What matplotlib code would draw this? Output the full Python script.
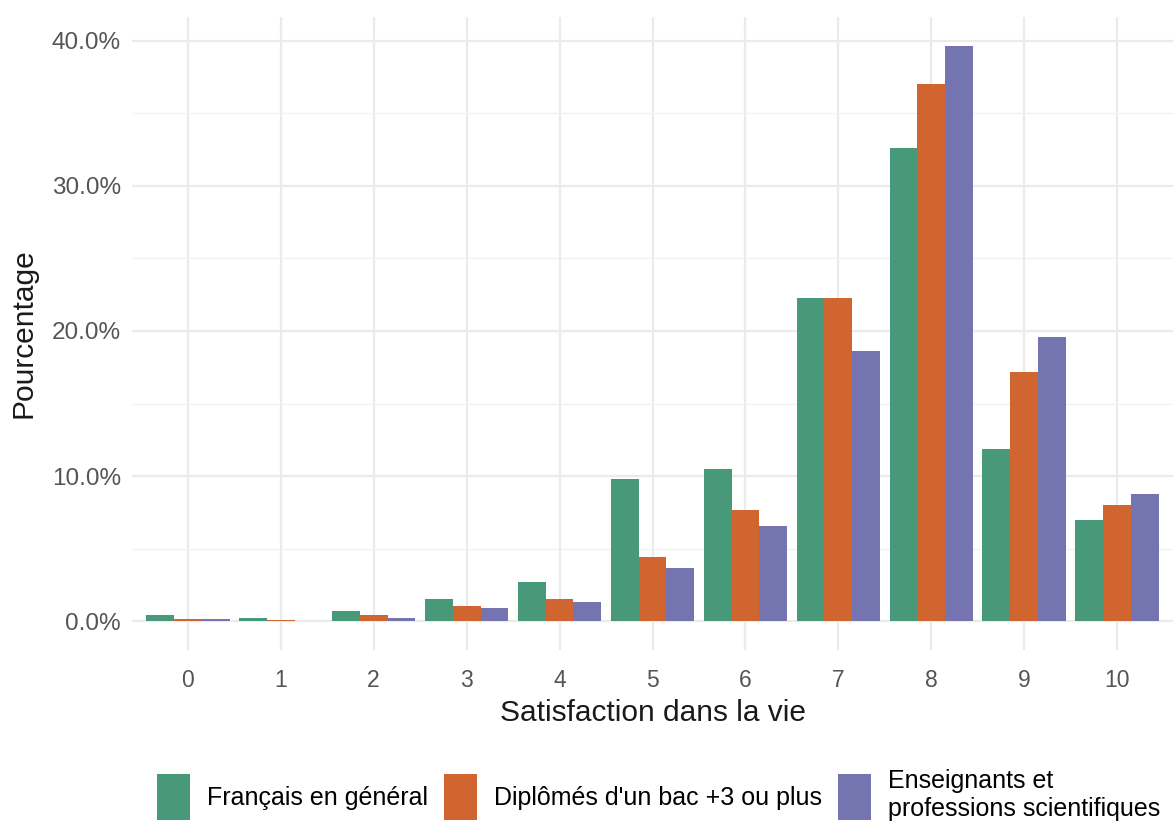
import matplotlib
matplotlib.use("Agg")
import matplotlib.pyplot as plt
import numpy as np
from matplotlib.ticker import FuncFormatter, MultipleLocator

plt.rcParams['font.family'] = ['Liberation Sans', 'DejaVu Sans']

# satisfaction scores 0..10
scores = list(range(11))

# percentages
francais = [0.41, 0.23, 0.72, 1.55, 2.70, 9.80, 10.50, 22.30, 32.60, 11.85, 6.95]
diplomes = [0.16, 0.07, 0.40, 1.05, 1.50, 4.40, 7.65, 22.30, 37.00, 17.15, 8.00]
enseignants = [0.18, 0.05, 0.23, 0.92, 1.30, 3.65, 6.55, 18.65, 39.65, 19.60, 8.80]

labels = ["Français en général", "Diplômés d'un bac +3 ou plus",
          "Enseignants et\nprofessions scientifiques"]
colors = ["#47997A", "#D06530", "#7474B0"]

fig = plt.figure(figsize=(11.73, 8.25), dpi=100)
ax = fig.add_axes([132/1173, 175/825, 1 - 132/1173, 633/825])

x = np.arange(len(scores))
w = 0.3
for i, (vals, lab, col) in enumerate(zip([francais, diplomes, enseignants], labels, colors)):
    ax.bar(x + (i - 1) * w, vals, width=w, color=col, label=lab, zorder=3, linewidth=0)

ymax = max(max(francais), max(diplomes), max(enseignants))
ax.set_ylim(-0.05 * ymax, ymax * 1.05)
ax.set_xlim(-0.6, 10.6)

ax.yaxis.set_major_locator(MultipleLocator(10))
ax.yaxis.set_minor_locator(MultipleLocator(5))
ax.yaxis.set_major_formatter(FuncFormatter(lambda v, p: f"{v:.1f}%"))
ax.set_xticks(x)
ax.set_xticklabels([str(s) for s in scores])

ax.grid(which='major', color='#EBEBEB', linewidth=1.6, zorder=0)
ax.grid(which='minor', axis='y', color='#F2F2F2', linewidth=1.0, zorder=0)
for s in ax.spines.values():
    s.set_visible(False)
ax.tick_params(which='both', length=0, labelcolor='#555555')
ax.tick_params(axis='y', pad=8, labelsize=17.5)
ax.tick_params(axis='x', pad=14, labelsize=16.5)

ax.set_xlabel("Satisfaction dans la vie", fontsize=21.5, color='#1A1A1A', labelpad=5)
ax.set_ylabel("Pourcentage", fontsize=21.5, color='#1A1A1A', labelpad=10)

fig.legend(loc='center', bbox_to_anchor=(659/1173, 1 - 795/825), ncol=3,
           frameon=False, fontsize=18, handlelength=1.32, handleheight=2.45,
           handletextpad=0.68, columnspacing=0.64)

fig.savefig("out.png", dpi=100)
